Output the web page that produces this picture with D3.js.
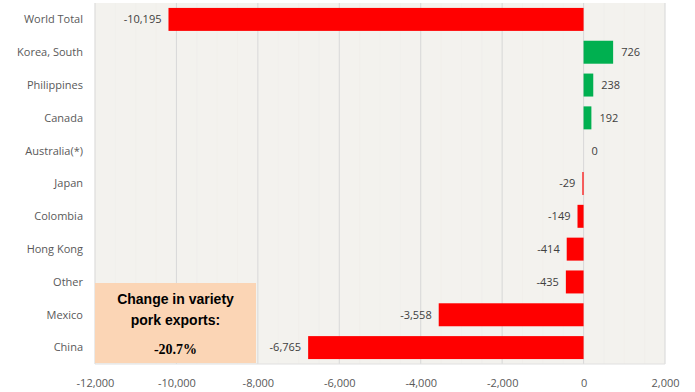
<!DOCTYPE html>
<html><head><meta charset="utf-8">
<script src="https://cdn.jsdelivr.net/npm/d3@7"></script>
<style>body{margin:0;background:#fff;} svg{display:block;}</style>
</head><body>
<svg id="c" width="695" height="392"></svg>
<script>
const categories = ["World Total","Korea, South","Philippines","Canada","Australia(*)","Japan","Colombia","Hong Kong","Other","Mexico","China"];
const values = [-10195,726,238,192,0,-29,-149,-414,-435,-3558,-6765];
const xTicks = [-12000,-10000,-8000,-6000,-4000,-2000,0,2000];
const boxLines = ["Change in variety","pork exports:"];
const boxValue = "-20.7%";

const svg = d3.select("#c");
const L=95, R=665, T=3, B=364;
const x = d3.scaleLinear().domain([-12000,2000]).range([L,R]);
const y = d3.scaleBand().domain(categories).range([T,B]).paddingInner(0.3).paddingOuter(0.15);
const font = "'Open Sans', sans-serif";

// plot background
svg.append("rect").attr("x",L).attr("y",T).attr("width",R-L).attr("height",B-T).attr("fill","#f3f2ee");
// faint minor grid pattern
const minor = d3.range(-12000,2001,500);
svg.append("g").selectAll("line").data(minor).join("line")
  .attr("x1",d=>x(d)).attr("x2",d=>x(d)).attr("y1",T).attr("y2",B)
  .attr("stroke","#eeede8").attr("stroke-width",0.5);
// major gridlines
svg.append("g").selectAll("line").data(xTicks).join("line")
  .attr("x1",d=>x(d)).attr("x2",d=>x(d)).attr("y1",T).attr("y2",B)
  .attr("stroke","#d9d9d9").attr("stroke-width",1);
// bottom line
svg.append("line").attr("x1",L).attr("x2",R).attr("y1",B).attr("y2",B).attr("stroke","#e0e0e0");

// bars
svg.append("g").selectAll("rect").data(categories).join("rect")
  .attr("x",(d,i)=>x(Math.min(0,values[i])))
  .attr("y",d=>y(d))
  .attr("width",(d,i)=>Math.abs(x(values[i])-x(0)))
  .attr("height",y.bandwidth())
  .attr("fill",(d,i)=>values[i]>=0?"#00b050":"#ff0000");

// value labels
svg.append("g").selectAll("text").data(categories).join("text")
  .attr("x",(d,i)=>values[i]<0?x(values[i])-7:x(values[i])+8)
  .attr("y",d=>y(d)+y.bandwidth()/2)
  .attr("dy","0.35em")
  .attr("text-anchor",(d,i)=>values[i]<0?"end":"start")
  .attr("font-family",font).attr("font-size",11).attr("fill","#404040")
  .text((d,i)=>d3.format(",")(values[i]).replace("−","-"));

// category labels
svg.append("g").selectAll("text").data(categories).join("text")
  .attr("x",83).attr("y",d=>y(d)+y.bandwidth()/2).attr("dy","0.35em")
  .attr("text-anchor","end").attr("font-family",font).attr("font-size",11).attr("fill","#595959")
  .text(d=>d);

// x axis
const ax = svg.append("g").attr("transform",`translate(0,${B})`)
  .call(d3.axisBottom(x).tickValues(xTicks).tickSize(0).tickPadding(15).tickFormat(d=>d3.format(",")(d).replace("−","-")));
ax.select(".domain").remove();
ax.selectAll("text").attr("font-family",font).attr("font-size",11).attr("fill","#595959");

// annotation box
svg.append("rect").attr("x",95).attr("y",283).attr("width",161).attr("height",80).attr("fill","#fbd5b5");
svg.append("g").selectAll("text").data(boxLines).join("text")
  .attr("x",175.5).attr("y",(d,i)=>304+i*21)
  .attr("text-anchor","middle").attr("font-family","'Liberation Sans', Arial, sans-serif")
  .attr("font-weight","bold").attr("font-size",14).attr("fill","#000").text(d=>d);
svg.append("text").attr("x",175.5).attr("y",354).attr("text-anchor","middle")
  .attr("font-family","'Liberation Serif','Times New Roman',serif").attr("font-weight","bold")
  .attr("font-size",14).attr("fill","#000").text(boxValue);
</script>
</body></html>
